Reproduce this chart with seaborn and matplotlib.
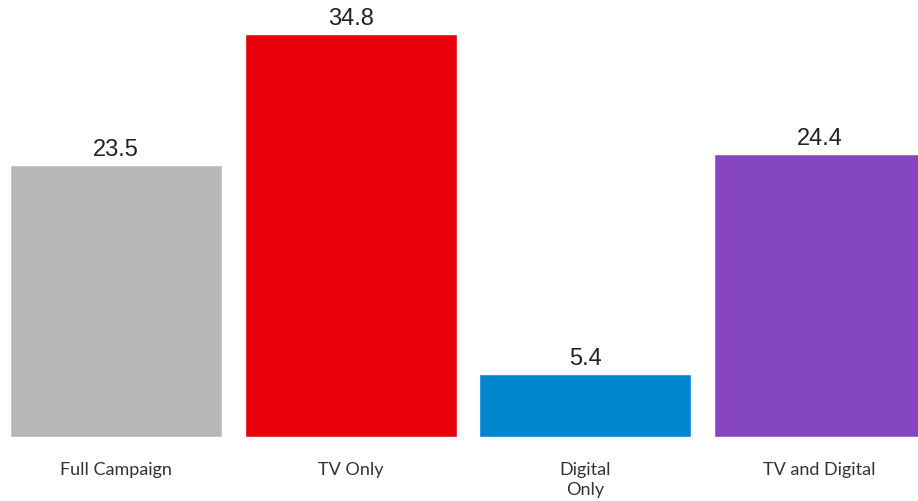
import matplotlib
matplotlib.use("Agg")
import matplotlib.pyplot as plt
import seaborn as sns
import pandas as pd

categories = ["Full Campaign", "TV Only", "Digital\nOnly", "TV and Digital"]
values = [23.5, 34.8, 5.4, 24.4]
colors = ["#b7b7b7", "#e8000b", "#0085cf", "#8646c1"]

df = pd.DataFrame({"segment": categories, "value": values})

sns.set_theme(style="white")
plt.rcParams["font.family"] = ["Liberation Sans", "DejaVu Sans"]

fig = plt.figure(figsize=(9.18, 5.01), dpi=100)
ax = fig.add_axes([0, 64 / 501, 1, 437 / 501])

sns.barplot(data=df, x="segment", y="value", hue="segment", palette=colors,
            width=0.904, saturation=1, legend=False, ax=ax)

ax.set_xlim(-0.495, 3.42)
ax.set_ylim(0, 37.74)
for side in ["top", "right", "left", "bottom"]:
    ax.spines[side].set_visible(False)
ax.set_yticks([])
ax.set_xlabel("")
ax.set_ylabel("")
ax.tick_params(axis="x", length=0, pad=18)
for lbl in ax.get_xticklabels():
    lbl.set_fontfamily("Lato")
    lbl.set_fontsize(13)
    lbl.set_color("#333333")
    lbl.set_verticalalignment("top")
    lbl.set_linespacing(1.3)

for i, v in enumerate(values):
    ax.annotate(f"{v:.1f}", xy=(i, v), xytext=(0, 3), textcoords="offset points",
                ha="center", va="bottom", fontsize=17, color="#222222")

fig.savefig("out.png", dpi=100)
